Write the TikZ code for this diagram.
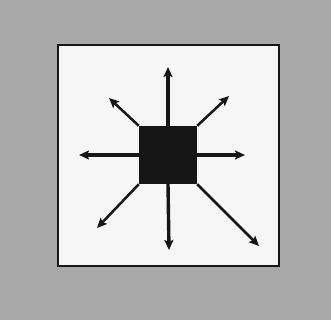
\documentclass[tikz,border=0pt]{standalone}
\usetikzlibrary{arrows.meta,positioning,calc}
\definecolor{ink}{HTML}{161616}
\definecolor{board}{HTML}{A8A8A8}
\definecolor{panel}{HTML}{F6F6F6}

\begin{document}
\begin{tikzpicture}[x=1pt, y=-1pt,
  >={Stealth[length=10pt, width=9pt, inset=2pt]},
  core/.style={fill=ink, draw=none, minimum size=58pt, inner sep=0pt},
  ax/.style={->, draw=ink, line width=3.4pt},
  dg/.style={->, draw=ink, line width=2.5pt}]
% backdrop and mount
\fill[board] (0,0) rectangle (331,320);
\useasboundingbox (0,0) rectangle (331,320);
\draw[ink, fill=panel, line width=2.4pt] (58,45) rectangle (279,266);
% centre block
\node[core] (blk) at (168,155) {};
% arrow ends
\coordinate (up) at (168,67);
\coordinate (dn) at (169,250);
\coordinate (lf) at (79,155);
\coordinate (rt) at (245,155);
\coordinate (ul) at (109,98);
\coordinate (ur) at (229,96);
\coordinate (ll) at (97,228);
\coordinate (lr) at (259,246);
\draw[ax] (blk.north) -- (up); \draw[ax] (blk.south) -- (dn);
\draw[ax] (blk.west) -- (lf); \draw[ax] (blk.east) -- (rt);
\draw[dg] (blk.north west) -- (ul); \draw[dg] (blk.north east) -- (ur);
\draw[dg] (blk.south west) -- (ll); \draw[dg] (blk.south east) -- (lr);
\end{tikzpicture}
\end{document}
